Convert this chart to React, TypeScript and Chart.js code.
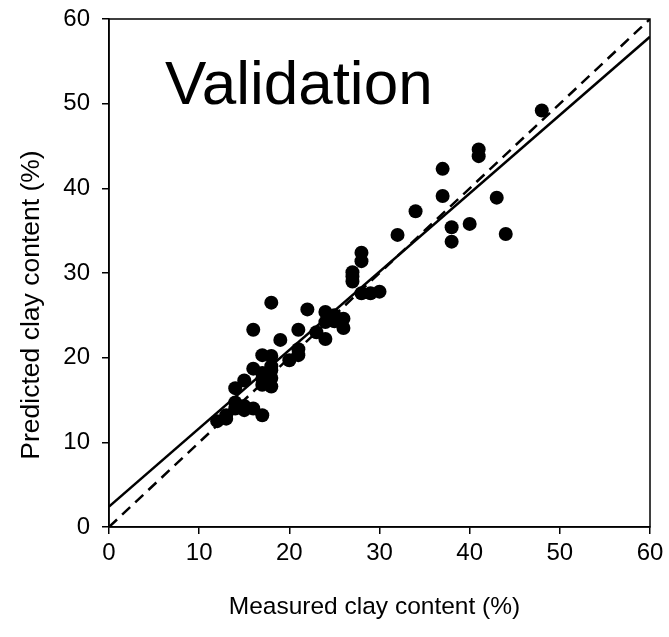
import React, { useEffect, useRef } from "react";
import { Chart, registerables } from "chart.js";

Chart.register(...registerables);

const measured = [12, 13, 13, 14, 14, 14, 15, 15, 15, 16, 16, 16, 17, 17, 17, 17, 17, 18, 18, 18, 18, 18, 18, 19, 20, 21, 21, 21, 22, 23, 24, 24, 24, 25, 25, 26, 26, 27, 27, 27, 28, 28, 28, 29, 30, 32, 34, 37, 37, 38, 38, 40, 41, 41, 43, 44, 48];
const predicted = [12.5, 12.8, 13.2, 14.0, 14.7, 16.4, 13.8, 17.3, 14.3, 14.0, 18.7, 23.3, 13.2, 16.8, 17.5, 20.3, 18.2, 16.6, 17.6, 19.0, 20.2, 26.5, 18.5, 22.1, 19.7, 20.3, 21.0, 23.3, 25.7, 23.0, 22.2, 24.2, 25.4, 24.3, 25.0, 23.5, 24.6, 29.0, 29.6, 30.1, 31.4, 32.4, 27.6, 27.6, 27.8, 34.5, 37.3, 39.1, 42.3, 35.4, 33.7, 35.8, 43.8, 44.6, 38.9, 34.6, 49.2];

const axisMin = 0;
const axisMax = 60;
const tickStep = 10;
const fitIntercept = 2.4;
const fitSlope = 0.925;
const panelLabel = "Validation";
const panelLabelAt = { x: 6.2, y: 50 };
const xTitle = "Measured clay content (%)";
const yTitle = "Predicted clay content (%)";

const FONT = "'Liberation Sans', Arial, Helvetica, sans-serif";

export default function App() {
  const ref = useRef<HTMLCanvasElement>(null);

  useEffect(() => {
    document.body.style.margin = "0";
    const canvas = ref.current;
    if (!canvas) return;

    const points = measured.map((m, i) => ({ x: m, y: predicted[i] }));
    const fitLine = [
      { x: axisMin, y: fitIntercept + fitSlope * axisMin },
      { x: axisMax, y: fitIntercept + fitSlope * axisMax },
    ];
    const oneToOne = [
      { x: axisMin, y: axisMin },
      { x: axisMax, y: axisMax },
    ];

    const framePlugin = {
      id: "frame",
      afterDraw(chart: any) {
        const { ctx, chartArea: a } = chart;
        ctx.save();
        ctx.strokeStyle = "#000";
        ctx.lineWidth = 1.5;
        ctx.strokeRect(a.left, a.top, a.right - a.left, a.bottom - a.top);
        ctx.fillStyle = "#000";
        // panel label
        ctx.font = `62px ${FONT}`;
        ctx.textBaseline = "alphabetic";
        ctx.textAlign = "left";
        ctx.fillText(
          panelLabel,
          chart.scales.x.getPixelForValue(panelLabelAt.x),
          chart.scales.y.getPixelForValue(panelLabelAt.y)
        );
        // x title
        ctx.font = `24.5px ${FONT}`;
        ctx.textAlign = "center";
        ctx.textBaseline = "middle";
        ctx.fillText(xTitle, (a.left + a.right) / 2 - 5, 607);
        // y title
        ctx.translate(32, (a.top + a.bottom) / 2 + 32);
        ctx.rotate(-Math.PI / 2);
        ctx.font = `26.5px ${FONT}`;
        ctx.fillText(yTitle, 0, 0);
        ctx.restore();
      },
    };

    const tickFont = { family: FONT, size: 24, lineHeight: 1.2 };

    const chart = new Chart(canvas, {
      type: "scatter",
      data: {
        datasets: [
          {
            label: "points",
            data: points,
            backgroundColor: "#000",
            borderColor: "#000",
            borderWidth: 0,
            pointRadius: 7,
            order: 2,
          },
          {
            label: "fit",
            data: fitLine,
            showLine: true,
            borderColor: "#000",
            borderWidth: 2.5,
            pointRadius: 0,
            order: 1,
          } as any,
          {
            label: "1:1",
            data: oneToOne,
            showLine: true,
            borderColor: "#000",
            borderWidth: 2.5,
            borderDash: [11, 7],
            pointRadius: 0,
            order: 1,
          } as any,
        ],
      },
      options: {
        responsive: false,
        animation: false,
        layout: { padding: { left: 0, right: 19, top: 19, bottom: 0 } },
        plugins: {
          legend: { display: false },
          tooltip: { enabled: false },
        },
        scales: {
          x: {
            type: "linear",
            min: axisMin,
            max: axisMax,
            ticks: { stepSize: tickStep, font: tickFont, color: "#000", padding: 5 },
            grid: {
              drawOnChartArea: false,
              drawTicks: true,
              tickLength: 7,
              color: "#000",
              lineWidth: 1.5,
            },
            border: { display: true, color: "#000", width: 1.5 },
            afterFit: (s: any) => {
              s.height = 110;
              s.paddingLeft = 0;
              s.paddingRight = 0;
            },
          },
          y: {
            type: "linear",
            min: axisMin,
            max: axisMax,
            ticks: { stepSize: tickStep, font: tickFont, color: "#000", padding: 12 },
            grid: {
              drawOnChartArea: false,
              drawTicks: true,
              tickLength: 7,
              color: "#000",
              lineWidth: 1.5,
            },
            border: { display: true, color: "#000", width: 1.5 },
            afterFit: (s: any) => {
              s.width = 109;
              s.paddingTop = 0;
              s.paddingBottom = 0;
            },
          },
        },
      },
      plugins: [framePlugin],
    });

    return () => chart.destroy();
  }, []);

  return (
    <div style={{ width: 669, height: 637 }}>
      <canvas ref={ref} width={669} height={637} style={{ display: "block", width: 669, height: 637 }} />
    </div>
  );
}
